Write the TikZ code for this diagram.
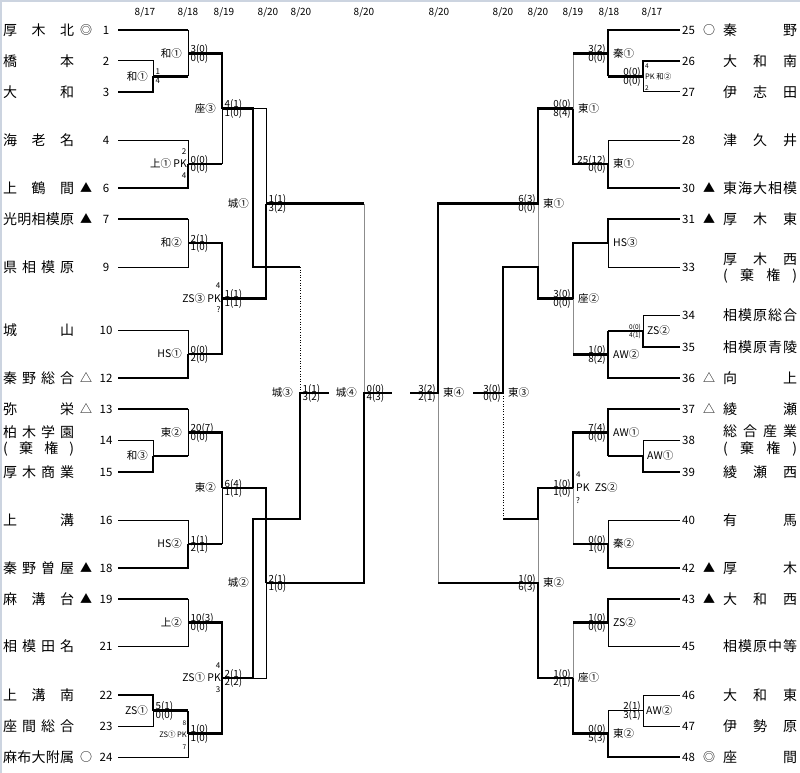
\documentclass[tikz,border=0pt]{standalone}
\usepackage{fontspec}
\setmainfont{Noto Sans CJK JP}
\usepackage{xcolor}
\definecolor{bordr}{RGB}{204,212,224}
\tikzset{%
    pri/.style={line width=2.8pt, line cap=square},
    sec/.style={line width=1pt},
    seg/.style={line width=1pt, draw=black!45},
    sdot/.style={line width=1pt, dash pattern=on 1pt off 1.6pt},
    brd/.style={line width=2.5pt, draw=bordr},
    nam/.style={inner sep=0pt, anchor=west, font=\fontsize{14}{14}\selectfont},
    num/.style={inner sep=0pt, font=\fontsize{11.5}{12}\selectfont},
    sym/.style={inner sep=0pt, font=\fontsize{12}{12}\selectfont},
    day/.style={inner sep=0pt, font=\fontsize{10}{10}\selectfont},
    lab/.style={inner sep=0pt, font=\fontsize{10.5}{10.5}\selectfont},
    slab/.style={inner sep=0pt, font=\fontsize{7.5}{8}\selectfont},
    scr/.style={inner sep=0pt, font=\fontsize{9.8}{10}\selectfont},
    pkn/.style={inner sep=0pt, font=\fontsize{8}{8}\selectfont},
    sscr/.style={inner sep=0pt, font=\fontsize{6.5}{7}\selectfont},
}
\newcommand\lscore[5]{%
    \node[scr, anchor=base west] (#1t) at (#2,#3-1) {#4};
    \node[scr, anchor=base west] (#1b) at (#2,#3+7.8) {#5};}
\newcommand\rscore[5]{%
    \node[scr, anchor=base east] (#1t) at (#2,#3-1) {#4};
    \node[scr, anchor=base east] (#1b) at (#2,#3+7.8) {#5};}

\begin{document}
\begin{tikzpicture}[x=1pt,y=-1pt]
    \useasboundingbox (0,0) rectangle (800,773);
    \draw[brd] (1.2,773) -- (1.2,0.8) -- (800,0.8);
    % dates
    \foreach \x/\d [count=\i] in {145/17,188/18,224/19,268/20,301/20,364/20,439/20,503/20,538/20,573/19,609/18,652/17}
        \node[day] (dt\i) at (\x,12) {8/\d};
    % teams, left
    \foreach \n/\y in {1/30,2/61,3/92,4/140,6/188,7/219,9/267,10/330,12/378,13/409,14/440,15/472,16/520,18/568,19/599,21/646,22/695,23/726,24/757}{
        \coordinate (L\n) at (118,\y);
        \node[num] (nl\n) at (106,\y) {\n};}
    \foreach \n/\y/\t in {1/30/{厚\hfill 木\hfill 北},2/61/{橋\hfill 本},3/92/{大\hfill 和},4/140/{海\hfill 老\hfill 名},
        6/188/{上\hfill 鶴\hfill 間},7/219/{光\hfill 明\hfill 相\hfill 模\hfill 原},9/267/{県\hfill 相\hfill 模\hfill 原},
        10/330/{城\hfill 山},12/378/{秦\hfill 野\hfill 総\hfill 合},13/409/{弥\hfill 栄},15/472/{厚\hfill 木\hfill 商\hfill 業},
        16/520/{上\hfill 溝},18/568/{秦\hfill 野\hfill 曽\hfill 屋},19/599/{麻\hfill 溝\hfill 台},21/646/{相\hfill 模\hfill 田\hfill 名},
        22/695/{上\hfill 溝\hfill 南},23/726/{座\hfill 間\hfill 総\hfill 合},24/757/{麻\hfill 布\hfill 大\hfill 附\hfill 属}}
        \node[nam] (sl\n) at (3,\y) {\makebox[71pt]{\t}};
    \node[nam] (sl14) at (3,432) {\makebox[71pt]{柏\hfill 木\hfill 学\hfill 園}};
    \node[nam] (sl14b) at (3,449) {\makebox[71pt]{(\hfill 棄\hfill 権\hfill )}};
    % teams, right
    \foreach \n/\y in {25/30,26/61,27/92,28/140,30/188,31/219,33/267,34/315,35/347,36/378,37/409,38/440,39/472,40/520,42/568,43/599,45/646,46/695,47/726,48/757}{
        \coordinate (R\n) at (680,\y);
        \node[num, anchor=west] (nr\n) at (682,\y) {\n};}
    \foreach \n/\y/\t in {25/30/{秦\hfill 野},26/61/{大\hfill 和\hfill 南},27/92/{伊\hfill 志\hfill 田},28/140/{津\hfill 久\hfill 井},
        30/188/{東\hfill 海\hfill 大\hfill 相\hfill 模},31/219/{厚\hfill 木\hfill 東},34/315/{相\hfill 模\hfill 原\hfill 総\hfill 合},
        35/347/{相\hfill 模\hfill 原\hfill 青\hfill 陵},36/378/{向\hfill 上},37/409/{綾\hfill 瀬},39/472/{綾\hfill 瀬\hfill 西},
        40/520/{有\hfill 馬},42/568/{厚\hfill 木},43/599/{大\hfill 和\hfill 西},45/646/{相\hfill 模\hfill 原\hfill 中\hfill 等},
        46/695/{大\hfill 和\hfill 東},47/726/{伊\hfill 勢\hfill 原},48/757/{座\hfill 間}}
        \node[nam] (sr\n) at (723,\y) {\makebox[74pt]{\t}};
    \node[nam] (sr33) at (723,259) {\makebox[74pt]{厚\hfill 木\hfill 西}};
    \node[nam] (sr33b) at (723,276) {\makebox[74pt]{(\hfill 棄\hfill 権\hfill )}};
    \node[nam] (sr38) at (723,431) {\makebox[74pt]{総\hfill 合\hfill 産\hfill 業}};
    \node[nam] (sr38b) at (723,449) {\makebox[74pt]{(\hfill 棄\hfill 権\hfill )}};
    % seed marks
    \node[sym] (yl1) at (86,30) {◎};
    \node[sym] (yl6) at (86,188) {▲};
    \node[sym] (yl7) at (86,219) {▲};
    \node[sym] (yl12) at (86,378) {△};
    \node[sym] (yl13) at (86,409) {△};
    \node[sym] (yl18) at (86,568) {▲};
    \node[sym] (yl19) at (86,599) {▲};
    \node[sym] (yl24) at (86,757) {○};
    \node[sym] (yr25) at (709,30) {○};
    \node[sym] (yr30) at (709,188) {▲};
    \node[sym] (yr31) at (709,219) {▲};
    \node[sym] (yr36) at (709,378) {△};
    \node[sym] (yr37) at (709,409) {△};
    \node[sym] (yr42) at (709,568) {▲};
    \node[sym] (yr43) at (709,599) {▲};
    \node[sym] (yr48) at (709,757) {◎};
    % match points, left
    \coordinate (la) at (153,76.5);
    \coordinate (lb) at (153,456);
    \coordinate (lc) at (153,710.5);
    \coordinate (ld) at (188,53.25);
    \coordinate (le) at (188,164);
    \coordinate (lf) at (188,243);
    \coordinate (lg) at (188,354);
    \coordinate (lh) at (188,432.5);
    \coordinate (li) at (188,544);
    \coordinate (lj) at (188,622.5);
    \coordinate (lk) at (188,733.75);
    \coordinate (ll) at (222,108.6);
    \coordinate (lm) at (222,298.5);
    \coordinate (ln) at (222,488);
    \coordinate (lo) at (222,678);
    \coordinate (c1) at (266,203.5);
    \coordinate (c2) at (266,583);
    \coordinate (c3) at (300,393);
    \coordinate (c4) at (364,393);
    \coordinate (lp1) at (253,267);
    \coordinate (lp2) at (253,519);
    \coordinate (l3rd) at (329,393);
    \coordinate (lfin) at (392,393);
    % match points, right
    \coordinate (ra) at (643,76.5);
    \coordinate (rb) at (643,331);
    \coordinate (rc) at (643,456);
    \coordinate (rd) at (643,710.5);
    \coordinate (re) at (608,53.25);
    \coordinate (rf) at (608,164);
    \coordinate (rg) at (608,243);
    \coordinate (rh) at (608,354.5);
    \coordinate (ri) at (608,432.5);
    \coordinate (rj) at (608,544);
    \coordinate (rk) at (608,622.5);
    \coordinate (rl) at (608,733.75);
    \coordinate (rm) at (573,108.6);
    \coordinate (rn) at (573,298.7);
    \coordinate (ro) at (573,488);
    \coordinate (rp) at (573,678);
    \coordinate (e1) at (538,203.6);
    \coordinate (e2) at (538,583);
    \coordinate (e3) at (503,393);
    \coordinate (e4) at (438,393);
    \coordinate (rq1) at (538,267);
    \coordinate (rq2) at (538,519);
    \coordinate (r3rd) at (473,393);
    \coordinate (rfin) at (410,393);
    % thin lines
    \draw[sec] (la) |- (L2);
    \draw[sec] (lb) |- (L14);
    \draw[sec] (lc) |- (L23);
    \draw[sec] (ld |- L1) -- (ld |- la);
    \draw[sec] (le) |- (L4);
    \draw[sec] (lf |- L7) |- (L9);
    \draw[sec] (lg) |- (L10);
    \draw[sec] (lh |- L13) -- (lh |- lb);
    \draw[sec] (li) |- (L16);
    \draw[sec] (lj |- L19) |- (L21);
    \draw[sec] (lk) |- (L24);
    \draw[sec] (ll) -- (ll |- le);
    \draw[sec] (ln) -- (ln |- li);
    \draw[sec] (ll -| lp1) -- (ll -| c1) -- (c1);
    \draw[sec] (lo -| lp2) -- (lo -| c2) -- (c2);
    \draw[seg] (c4) -- (c4 |- c1);
    \draw[sdot] (lp1 -| c3) -- (c3);
    \draw[sec] (ra) |- (R27);
    \draw[sec] (rb) |- (R34);
    \draw[sec] (rc) |- (R38);
    \draw[sec] (rd) |- (R46);
    \draw[sec] (rd) |- (R47);
    \draw[sec] (rd) -- (rd -| rl) -- (rl);
    \draw[sec] (rf) |- (R28);
    \draw[sec] (rg) |- (R33);
    \draw[sec] (rj) |- (R40);
    \draw[sec] (rk) |- (R45);
    \draw[seg] (rm) -- (rm |- re);
    \draw[seg] (rn) -- (rn |- rh);
    \draw[seg] (ro) -- (ro |- rj);
    \draw[seg] (rp) -- (rp |- rk);
    \draw[seg] (e1) -- (e1 |- rn);
    \draw[seg] (e2) -- (e2 |- ro);
    \draw[seg] (e4) -- (e4 |- e2);
    \draw[sdot] (rq2 -| e3) -- (e3);
    % thick lines, left
    \draw[pri] (la) |- (L3);
    \draw[pri] (lb) |- (L15);
    \draw[pri] (lc) |- (L22);
    \draw[pri] (la) -- (la -| ld);
    \draw[pri] (lb) -- (lb -| lh);
    \draw[pri] (lc) -- (lc -| lk);
    \draw[pri] (L1) -- (L1 -| ld);
    \draw[pri] (le) |- (L6);
    \draw[pri] (L7) -- (L7 -| lf);
    \draw[pri] (lg) |- (L12);
    \draw[pri] (L13) -- (L13 -| lh);
    \draw[pri] (li) |- (L18);
    \draw[pri] (L19) -- (L19 -| lj);
    \draw[pri] (lk) -- (lk |- lc);
    \draw[pri] (ld) -- (ld -| ll) -- (ll);
    \draw[pri] (le) -- (le -| ll);
    \draw[pri] (lf) -- (lf -| lm) -- (lm |- lg) -- (lg);
    \draw[pri] (lh) -- (lh -| ln) -- (ln);
    \draw[pri] (li) -- (li -| ln);
    \draw[pri] (lj) -- (lj -| lo) -- (lo |- lk) -- (lk);
    \draw[pri] (lm) -- (lm -| c1) -- (c1);
    \draw[pri] (ln) -- (ln -| c2) -- (c2);
    \draw[pri] (ll) -- (ll -| lp1) -- (lp1) -- (lp1 -| c3);
    \draw[pri] (lo) -- (lo -| lp2) -- (lp2) -- (lp2 -| c3) -- (c3) -- (l3rd);
    \draw[pri] (c1) -- (c1 -| c4);
    \draw[pri] (c2) -- (c2 -| c4) -- (c4) -- (lfin);
    % thick lines, right
    \draw[pri] (ra) |- (R26);
    \draw[pri] (rb) |- (R35);
    \draw[pri] (rc) |- (R39);
    \draw[pri] (ra) -- (ra -| re);
    \draw[pri] (rb) -- (rb -| rh);
    \draw[pri] (rc) -- (rc -| ri);
    \draw[pri] (re) |- (R25);
    \draw[pri] (re) -- (re |- ra);
    \draw[pri] (rf) |- (R30);
    \draw[pri] (rg) |- (R31);
    \draw[pri] (rh) |- (R36);
    \draw[pri] (rh) -- (rh |- rb);
    \draw[pri] (ri) |- (R37);
    \draw[pri] (ri) -- (ri |- rc);
    \draw[pri] (rj) |- (R42);
    \draw[pri] (rk) |- (R43);
    \draw[pri] (rl) |- (R48);
    \draw[pri] (re) -- (re -| rm);
    \draw[pri] (rf) -- (rf -| rm) -- (rm);
    \draw[pri] (rg) -- (rg -| rn) -- (rn);
    \draw[pri] (rh) -- (rh -| rn);
    \draw[pri] (ri) -- (ri -| ro) -- (ro);
    \draw[pri] (rj) -- (rj -| ro);
    \draw[pri] (rk) -- (rk -| rp);
    \draw[pri] (rl) -- (rl -| rp) -- (rp);
    \draw[pri] (rm) -- (rm -| e1) -- (e1) -- (e1 -| e4) -- (e4) -- (rfin);
    \draw[pri] (rp) -- (rp -| e2) -- (e2) -- (e2 -| e4);
    \draw[pri] (rn) -- (rn -| e1) -- (rq1) -- (rq1 -| e3) -- (e3) -- (r3rd);
    \draw[pri] (ro) -- (ro -| e2) -- (rq2) -- (rq2 -| e3);
    % match labels, left
    \node[lab, anchor=east] (ma) at (148,76.5) {和①};
    \node[lab, anchor=east] (mb) at (148,456) {和③};
    \node[lab, anchor=east] (mc) at (148,710.5) {ZS①};
    \node[lab, anchor=east] (md) at (182,53.25) {和①};
    \node[lab, anchor=east] (me) at (187,164) {上① PK};
    \node[pkn, anchor=east] (mep) at (186.5,152) {2};
    \node[pkn, anchor=east] (meq) at (186.5,176) {4};
    \node[lab, anchor=east] (mf) at (182,243) {和②};
    \node[lab, anchor=east] (mg) at (182,354) {HS①};
    \node[lab, anchor=east] (mh) at (182,432.5) {東②};
    \node[lab, anchor=east] (mi) at (182,544) {HS②};
    \node[lab, anchor=east] (mj) at (182,622.5) {上②};
    \node[slab, anchor=east] (mk) at (187,735) {ZS① PK};
    \node[sscr, anchor=east] (mkp) at (186.5,723.5) {8};
    \node[sscr, anchor=east] (mkq) at (186.5,747) {7};
    \node[lab, anchor=east] (ml) at (216,108.6) {座③};
    \node[lab, anchor=east] (mm) at (221,298.5) {ZS③ PK};
    \node[pkn, anchor=east] (mmp) at (220.5,286) {4};
    \node[pkn, anchor=east] (mmq) at (220.5,310) {?};
    \node[lab, anchor=east] (mn) at (216,488) {東②};
    \node[lab, anchor=east] (mo) at (221,678) {ZS① PK};
    \node[pkn, anchor=east] (mop) at (220.5,666) {4};
    \node[pkn, anchor=east] (moq) at (220.5,690) {3};
    \node[lab, anchor=east] (mc1) at (249,203.5) {城①};
    \node[lab, anchor=east] (mc2) at (249,583) {城②};
    \node[lab, anchor=east] (mc3) at (293,393) {城③};
    \node[lab, anchor=east] (mc4) at (357,393) {城④};
    % match labels, right
    \node[sscr, anchor=west] (nap) at (645,66) {4};
    \node[slab, anchor=west] (na) at (645,77) {PK 和②};
    \node[sscr, anchor=west] (naq) at (645,88) {2};
    \node[lab, anchor=west] (nb) at (647,331) {ZS②};
    \node[lab, anchor=west] (nc) at (647,456) {AW①};
    \node[lab, anchor=west] (nd) at (646,710.5) {AW②};
    \node[lab, anchor=west] (ne) at (613,53.25) {秦①};
    \node[lab, anchor=west] (nf) at (613,164) {東①};
    \node[lab, anchor=west] (ng) at (613,243) {HS③};
    \node[lab, anchor=west] (nh) at (613,354.5) {AW②};
    \node[lab, anchor=west] (ni) at (613,432.5) {AW①};
    \node[lab, anchor=west] (nj) at (613,544) {秦②};
    \node[lab, anchor=west] (nk) at (613,622.5) {ZS②};
    \node[lab, anchor=west] (nl) at (613,733.75) {東②};
    \node[lab, anchor=west] (nm) at (578,108.6) {東①};
    \node[lab, anchor=west] (nn) at (578,298.7) {座②};
    \node[pkn, anchor=west] (nop) at (576,475) {4};
    \node[lab, anchor=west] (no) at (576,488) {PK\enspace ZS②};
    \node[pkn, anchor=west] (noq) at (576,500) {?};
    \node[lab, anchor=west] (np) at (578,678) {座①};
    \node[lab, anchor=west] (ne1) at (543,203.6) {東①};
    \node[lab, anchor=west] (ne2) at (543,583) {東②};
    \node[lab, anchor=west] (ne3) at (508,393) {東③};
    \node[lab, anchor=west] (ne4) at (443,393) {東④};
    % scores, left
    \node[pkn, anchor=base west] (sat) at (155.5,75) {1};
    \node[pkn, anchor=base west] (sab) at (155.5,83.5) {4};
    \lscore{sc}{155.5}{710.5}{5(1)}{0(0)}
    \lscore{sd}{190.5}{53.25}{3(0)}{0(0)}
    \lscore{se}{190.5}{164}{0(0)}{0(0)}
    \lscore{sf}{190.5}{243}{2(1)}{1(0)}
    \lscore{sg}{190.5}{354}{0(0)}{2(0)}
    \lscore{sh}{190.5}{432.5}{20(7)}{0(0)}
    \lscore{si}{190.5}{544}{1(1)}{2(1)}
    \lscore{sj}{190.5}{622.5}{10(3)}{0(0)}
    \lscore{sk}{190.5}{733.75}{1(0)}{1(0)}
    \lscore{sl}{224.5}{108.6}{4(1)}{1(0)}
    \lscore{sm}{224.5}{298.5}{1(1)}{1(1)}
    \lscore{sn}{224.5}{488}{6(4)}{1(1)}
    \lscore{so}{224.5}{678}{2(1)}{2(2)}
    \lscore{sc1}{268.5}{203.5}{1(1)}{3(2)}
    \lscore{sc2}{268.5}{583}{2(1)}{1(0)}
    \lscore{sc3}{302.5}{393}{1(1)}{3(2)}
    \lscore{sc4}{366.5}{393}{0(0)}{4(3)}
    % scores, right
    \rscore{ta}{641}{76.5}{0(0)}{0(0)}
    \node[sscr, anchor=base east] (tbt) at (641,329.5) {0(0)};
    \node[sscr, anchor=base east] (tbb) at (641,337) {4(1)};
    \rscore{td}{641}{710.5}{2(1)}{3(1)}
    \rscore{te}{606}{53.25}{3(2)}{0(0)}
    \rscore{tf}{606}{164}{25(12)}{0(0)}
    \rscore{th}{606}{354.5}{1(0)}{8(2)}
    \rscore{ti}{606}{432.5}{7(4)}{0(0)}
    \rscore{tj}{606}{544}{0(0)}{1(0)}
    \rscore{tk}{606}{622.5}{1(0)}{0(0)}
    \rscore{tl}{606}{733.75}{0(0)}{5(3)}
    \rscore{tm}{571}{108.6}{0(0)}{8(4)}
    \rscore{tn}{571}{298.7}{3(0)}{0(0)}
    \rscore{to}{571}{488}{1(0)}{1(0)}
    \rscore{tp}{571}{678}{1(0)}{2(1)}
    \rscore{te1}{536}{203.6}{6(3)}{0(0)}
    \rscore{te2}{536}{583}{1(0)}{6(3)}
    \rscore{te3}{501}{393}{3(0)}{0(0)}
    \rscore{te4}{436}{393}{3(2)}{2(1)}
\end{tikzpicture}
\end{document}
